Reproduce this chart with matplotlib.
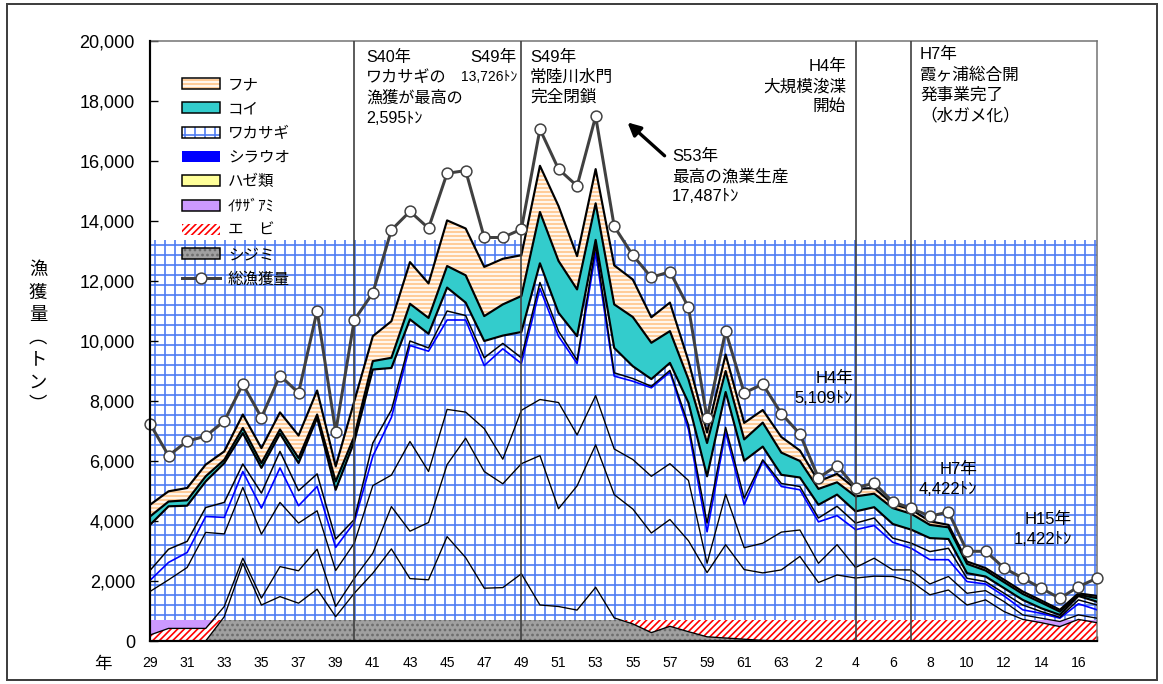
import numpy as np
import matplotlib.pyplot as plt
from matplotlib.patches import Patch, Rectangle
from matplotlib.lines import Line2D
from matplotlib.legend_handler import HandlerTuple

plt.rcParams['font.family'] = ['Liberation Sans', 'Noto Sans CJK JP']
plt.rcParams['hatch.linewidth'] = 1.0

# years: S29..S63, then H1..H17
years = [str(y) for y in range(29, 64)] + [str(y) for y in range(1, 18)]

# catch by species (t), bottom of the stack first
shijimi = [0, 0, 0, 0, 810, 2590, 1200, 1480, 1260, 1730, 810, 1590, 2260,
           3070, 2080, 2040, 3480, 2780, 1760, 1780, 2240, 1200, 1150, 1030, 1790,
           770, 570, 280, 490, 310, 140, 100, 60, 20,
           0, 0, 0, 0, 0, 0, 0, 0, 0, 0, 0, 0, 0, 0, 0, 0, 0, 0]
ebi = [200, 420, 420, 420, 340, 170, 230, 1000, 1080, 1330, 340, 500, 670,
       1410, 1580, 1910, 2400, 3980, 3890, 3460, 3670, 4980, 3260, 4140, 4750,
       4110, 3830, 3320, 3560, 3030, 2140, 3110, 2320, 2250,
       2370, 2820, 1950, 2200, 2100, 2160, 2150, 1980, 1540, 1700, 1200, 1370, 980, 720, 610, 480, 720, 610]
isaza = [1450, 1620, 2030, 3200, 2420, 2360, 2130, 2140, 1590, 1280, 1200, 1170, 2250,
         1050, 2990, 1700, 1840, 870, 1430, 820, 1780, 1870, 3540, 1700, 1640,
         1520, 1650, 1890, 1860, 2010, 310, 1680, 730, 990,
         1260, 880, 640, 1010, 350, 600, 220, 390, 360, 450, 390, 310, 330, 150, 150, 170, 150, 150]
haze = [370, 580, 500, 530, 550, 530, 870, 1150, 580, 810, 770, 690, 980,
        1920, 3200, 4010, 2980, 3070, 2100, 3680, 1560, 3700, 2210, 2380, 4760,
        2430, 2610, 2950, 3050, 1700, 1050, 2070, 1430, 2730,
        1520, 1340, 1380, 970, 1260, 1090, 920, 720, 810, 560, 390, 220, 190, 170, 160, 110, 370, 280]
shirauo = [330, 440, 370, 300, 500, 250, 500, 550, 500, 420, 280, 100, 440,
           250, 150, 110, 300, 150, 260, 180, 190, 200, 170, 110, 230,
           110, 90, 50, 60, 150, 290, 160, 220, 50,
           100, 110, 130, 310, 220, 250, 140, 170, 270, 380, 110, 80, 90, 160, 60, 30, 130, 160]
wakasagi = [1520, 1430, 1190, 870, 1310, 1030, 840, 590, 920, 1870, 1640, 2595, 2450,
            1400, 720, 470, 780, 430, 560, 260, 860, 640, 610, 800, 200,
            830, 410, 240, 250, 740, 1560, 1180, 1250, 440,
            290, 300, 440, 390, 390, 360, 470, 450, 450, 310, 170, 170, 170, 170, 110, 80, 130, 110]
koi = [280, 160, 180, 170, 110, 170, 160, 140, 170, 110, 280, 175, 280,
       340, 520, 530, 720, 910, 830, 1040, 1200, 1710, 1730, 1560, 1220,
       1450, 1640, 1210, 1060, 780, 1110, 700, 710, 800,
       740, 550, 530, 410, 500, 450, 530, 530, 440, 390, 310, 200, 200, 200, 190, 110, 40, 120]
funa = [390, 340, 410, 390, 280, 450, 500, 570, 750, 800, 500, 1170, 830,
        1220, 1390, 1150, 1520, 1560, 1640, 1520, 1360, 1540, 1830, 1110, 1140,
        1300, 1250, 850, 950, 610, 350, 550, 550, 420,
        520, 350, 250, 280, 250, 190, 140, 140, 120, 80, 80, 80, 80, 80, 70, 60, 50, 70]
total = [7240, 6180, 6660, 6830, 7330, 8560, 7450, 8850, 8270, 11010, 6970, 10700, 11600,
         13700, 14320, 13760, 15590, 15680, 13450, 13450, 13726, 17060, 15730, 15170, 17487,
         13820, 12860, 12120, 12310, 11120, 7420, 10330, 8270, 8560,
         7580, 6900, 5440, 5850, 5109, 5260, 4640, 4422, 4160, 4300, 2990, 2990, 2430, 2095, 1760, 1422, 1810, 2095]

# index of S40, S49, H4, H7 marker lines
event_idx = [11, 20, 38, 41]

BAND_TOP = 700      # height of the patterned strip at the bottom
GRID_BLUE = '#4f7df2'

x = np.arange(len(years))
tops = np.cumsum(np.array([shijimi, ebi, isaza, haze, shirauo, wakasagi, koi, funa]), axis=0)

fig = plt.figure(figsize=(1163 / 120, 684 / 120), dpi=120)
ax = fig.add_axes([150 / 1163, 1 - 641 / 684, 947 / 1163, 600 / 684])

# big grid block (ワカサギ pattern)
ax.fill_between(x, 0, tops[5].max(), facecolor='white', edgecolor=GRID_BLUE,
                hatch='++', lw=0, zorder=1)

# bottom strip: シジミ / エビ / イサザアミ, clipped to the strip
clip = Rectangle((0, 0), x[-1], BAND_TOP, transform=ax.transData)
band = [
    ax.fill_between(x, 0, tops[0], facecolor='#a0a0a0', edgecolor='#6a6a6a', hatch='....', lw=0, zorder=2),
    ax.fill_between(x, tops[0], tops[1], facecolor='white', edgecolor='red', hatch='//////', lw=0, zorder=2),
    ax.fill_between(x, tops[1], tops[2], facecolor='#cc99ff', lw=0, zorder=2),
]
for b in band:
    b.set_clip_path(clip)

# コイ and フナ
ax.fill_between(x, tops[5], tops[6], facecolor='#33cccc', lw=0, zorder=3)
ax.fill_between(x, tops[6], tops[7], facecolor='#ffcc99', edgecolor='white', hatch='-----', lw=0, zorder=3)

# layer borders
for k in (0, 1, 2):
    ax.plot(x, tops[k], color='black', lw=0.8, zorder=4)
ax.plot(x, tops[3], color='#0000ff', lw=1.0, zorder=4)
ax.plot(x, tops[4], color='black', lw=0.9, zorder=4)
for k in (5, 6, 7):
    ax.plot(x, tops[k], color='black', lw=1.3, zorder=4)

for i in event_idx:
    ax.axvline(i, color='#404040', lw=1.0, zorder=5)

ax.plot(x, total, color='#404040', lw=1.8, marker='o', ms=6.5, mfc='white',
        mec='#404040', mew=0.9, zorder=6, clip_on=False)

ax.set_xlim(0, x[-1])
ax.set_ylim(0, 20000)
yt = np.arange(0, 20001, 2000)
ax.set_yticks(yt)
ax.set_yticklabels([f'{v:,}' for v in yt])
ax.set_xticks(x)
ax.set_xticklabels([lab if i % 2 == 0 else '' for i, lab in enumerate(years)])
ax.tick_params(axis='y', direction='in', length=4.5, width=0.8, labelsize=10.8, pad=9)
ax.tick_params(axis='x', direction='in', length=3, width=0.8, labelsize=8.4, pad=9)
for s in ('left', 'bottom'):
    ax.spines[s].set_linewidth(1.3)
    ax.spines[s].set_zorder(7)
for s in ('top', 'right'):
    ax.spines[s].set_color('#707070')
    ax.spines[s].set_linewidth(0.9)

# legend
handles = [
    (Patch(facecolor='#ffcc99', edgecolor='white', hatch='-----', lw=0), Patch(facecolor='none', edgecolor='black', lw=0.9)),
    Patch(facecolor='#33cccc', edgecolor='black', lw=0.9),
    (Patch(facecolor='white', edgecolor=GRID_BLUE, hatch='++', lw=0), Patch(facecolor='none', edgecolor='black', lw=0.9)),
    Patch(facecolor='#0000ff', lw=0),
    Patch(facecolor='#ffff99', edgecolor='black', lw=0.9),
    Patch(facecolor='#cc99ff', edgecolor='black', lw=0.9),
    Patch(facecolor='white', edgecolor='red', hatch='//////', lw=0),
    (Patch(facecolor='#a0a0a0', edgecolor='#6a6a6a', hatch='....', lw=0), Patch(facecolor='none', edgecolor='black', lw=0.9)),
    Line2D([], [], color='#404040', lw=1.8, marker='o', ms=6.5, mfc='white', mec='#404040', mew=0.9),
]
labels = ['フナ', 'コイ', 'ワカサギ', 'シラウオ', 'ハゼ類', 'ｲｻｻﾞｱﾐ', 'エ\u3000ビ', 'シジミ', '総漁獲量']
ax.legend(handles, labels, loc='upper left', bbox_to_anchor=(0.034, 0.94), frameon=False,
          fontsize=9.3, handlelength=2.45, handleheight=0.7, handletextpad=0.5, labelspacing=0.6,
          borderpad=0, borderaxespad=0, handler_map={tuple: HandlerTuple(ndivide=1, pad=0)})

# annotations
fs = 10
ls = 1.38
ax.text(0.228, 0.985, 'S40年\nワカサギの\n漁獲が最高の\n2,595ﾄﾝ', transform=ax.transAxes,
        fontsize=9.7, va='top', ha='left', linespacing=1.42)
ax.text(0.3875, 0.985, 'S49年', transform=ax.transAxes, fontsize=fs, va='top', ha='right')
ax.text(0.3875, 0.952, '13,726ﾄﾝ', transform=ax.transAxes, fontsize=8.3, va='top', ha='right')
ax.text(0.4013, 0.985, 'S49年\n常陸川水門\n完全閉鎖', transform=ax.transAxes, fontsize=fs,
        va='top', ha='left', linespacing=ls)
ax.text(0.5512, 0.82, 'S53年\n最高の漁業生産\n17,487ﾄﾝ', transform=ax.transAxes, fontsize=fs,
        va='top', ha='left', linespacing=ls)
ax.text(0.735, 0.97, 'H4年\n大規模浚渫\n開始', transform=ax.transAxes, fontsize=fs,
        va='top', ha='right', multialignment='right', linespacing=ls)
ax.text(0.8131, 0.99, 'H7年\n霞ヶ浦総合開\n発事業完了\n（水ガメ化）', transform=ax.transAxes,
        fontsize=fs, va='top', ha='left', linespacing=ls)
ax.text(0.7424, 0.45, 'H4年\n5,109ﾄﾝ', transform=ax.transAxes, fontsize=fs,
        va='top', ha='right', multialignment='right', linespacing=ls, zorder=8)
ax.text(0.8733, 0.298, 'H7年\n4,422ﾄﾝ', transform=ax.transAxes, fontsize=fs,
        va='top', ha='right', multialignment='right', linespacing=ls, zorder=8)
ax.text(0.9736, 0.215, 'H15年\n1,422ﾄﾝ', transform=ax.transAxes, fontsize=fs,
        va='top', ha='right', multialignment='right', linespacing=ls, zorder=8)
ax.annotate('', xy=(0.5016, 0.868), xytext=(0.546, 0.805), xycoords='axes fraction',
            arrowprops=dict(arrowstyle='-|>', color='black', lw=2, mutation_scale=16))

fig.text(38 / 1163, 1 - 338 / 684, '漁\n獲\n量\n︵\nト\nン\n︶', ha='center', va='center',
         fontsize=11, linespacing=1.42)
fig.text(103 / 1163, 1 - 665 / 684, '年', ha='center', va='center', fontsize=10.5)

fig.patches.append(Rectangle((0.006, 0.006), 0.989, 0.988, transform=fig.transFigure,
                             fill=False, edgecolor='#404040', lw=1.2))

fig.savefig('out.png', dpi=120)
